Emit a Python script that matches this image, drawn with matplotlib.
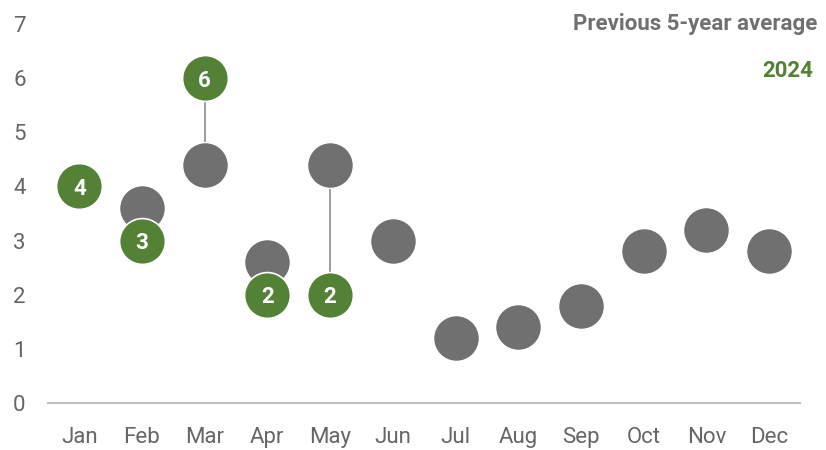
import numpy as np
import matplotlib.pyplot as plt

plt.rcParams['font.family'] = ['Roboto', 'DejaVu Sans']

# Data
months = ["Jan", "Feb", "Mar", "Apr", "May", "Jun",
          "Jul", "Aug", "Sep", "Oct", "Nov", "Dec"]
avg_5yr = [4.0, 3.6, 4.4, 2.6, 4.4, 3.0, 1.2, 1.4, 1.8, 2.8, 3.2, 2.8]
val_2024 = [4, 3, 6, 2, 2]  # Jan-May

GRAY = "#707070"
GREEN = "#538135"
TXT = "#666666"

fig = plt.figure(figsize=(8.26, 4.5), dpi=100)
ax = fig.add_axes([0.058, 0.1044, 0.911, 0.8423])

x = np.arange(len(months))
x24 = x[:len(val_2024)]

# connectors between average and 2024
ax.vlines(x24, np.array(avg_5yr[:len(val_2024)]), val_2024,
          color="#8c8c8c", lw=1.2, zorder=1)

ax.scatter(x, avg_5yr, s=1090, color=GRAY, edgecolor="white", lw=1, zorder=2)
ax.scatter(x24, val_2024, s=1090, color=GREEN, edgecolor="white", lw=1.2, zorder=3)
for xi, v in zip(x24, val_2024):
    ax.text(xi, v, str(v), ha="center", va="center_baseline", color="white",
            fontsize=16, fontweight="bold", zorder=4)

ax.set_xlim(-0.5, 11.5)
ax.set_ylim(0, 7)
ax.set_xticks(x)
ax.set_xticklabels(months)
ax.set_yticks(range(8))
for s in ["top", "right", "left"]:
    ax.spines[s].set_visible(False)
ax.spines["bottom"].set_color("#bfbfbf")
ax.spines["bottom"].set_linewidth(1.5)
ax.tick_params(length=0, labelsize=16, colors=TXT)
ax.tick_params(axis="x", pad=17)
ax.tick_params(axis="y", pad=16)

# legend text
fig.text(0.99, 0.947, "Previous 5-year average", ha="right", va="center",
         color=GRAY, fontsize=16, fontweight="bold")
fig.text(0.985, 0.843, "2024", ha="right", va="center",
         color=GREEN, fontsize=16, fontweight="bold")

fig.savefig("out.png", dpi=100)
